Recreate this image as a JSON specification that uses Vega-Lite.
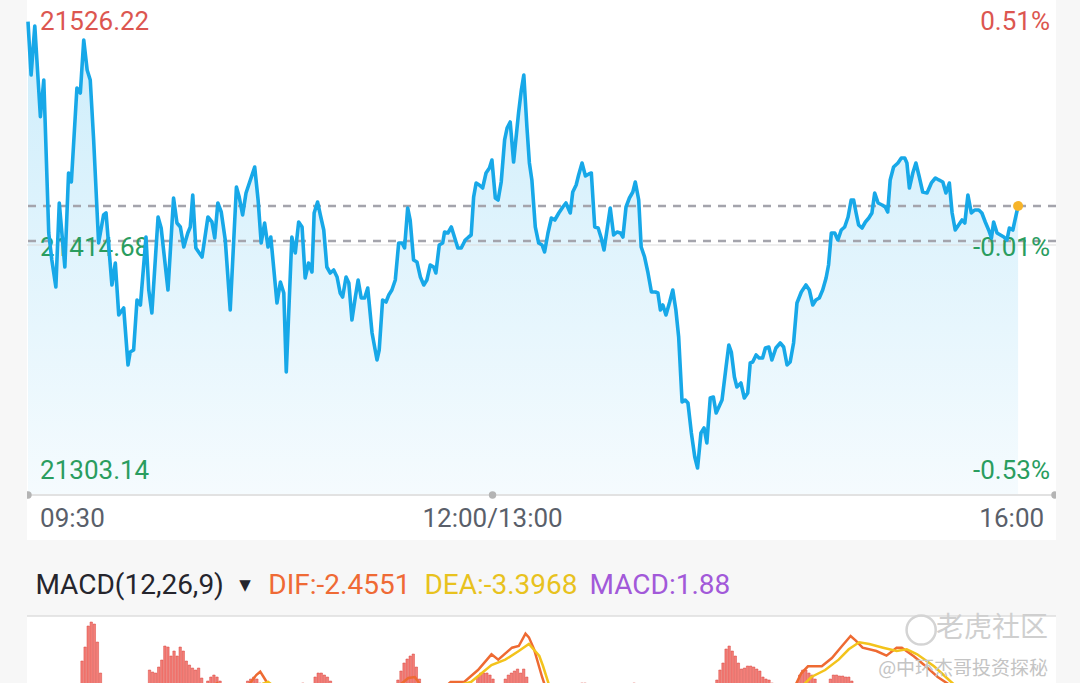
{
  "$schema": "https://vega.github.io/schema/vega-lite/v6.json",
  "background": "#f7f7f7",
  "padding": {"left": 25, "right": 26, "top": 0, "bottom": 0},
  "spacing": 0,
  "resolve": {"scale": {"color": "independent"}},
  "config": {
    "view": {"stroke": null},
    "axis": {"disable": true},
    "legend": {"disable": true},
    "text": {"font": "Roboto"}
  },
  "datasets": {
    "price": [
      {"t":0,"p":21522.91},{"t":1.0,"p":21496.61},{"t":2.2,"p":21520.79},{"t":4.0,"p":21476.03},{"t":5.1,"p":21494.14},{"t":6.7,"p":21418.63},{"t":7.7,"p":21405.30},{"t":9.0,"p":21391.98},{"t":10.1,"p":21433.43},{"t":11.9,"p":21401.85},{"t":13.1,"p":21448.24},{"t":14.0,"p":21443.80},{"t":15.8,"p":21490.19},{"t":16.9,"p":21487.72},{"t":18.0,"p":21513.88},{"t":19.1,"p":21499.08},{"t":20.1,"p":21494.14},{"t":21.2,"p":21464.53},{"t":22.8,"p":21413.69},{"t":24.4,"p":21427.51},{"t":25.2,"p":21428.50},{"t":27.1,"p":21392.96},{"t":28.2,"p":21403.82},{"t":29.3,"p":21378.16},{"t":30.9,"p":21381.61},{"t":32.3,"p":21353.48},{"t":33.0,"p":21359.90},{"t":34.1,"p":21360.88},{"t":35.2,"p":21385.56},{"t":36.3,"p":21383.09},{"t":38.1,"p":21416.65},{"t":39.0,"p":21390.50},{"t":40.0,"p":21379.15},{"t":42.0,"p":21426.52},{"t":43.0,"p":21421.10},{"t":45.2,"p":21390.50},{"t":47.0,"p":21435.90},{"t":48.1,"p":21423.56},{"t":49.2,"p":21421.59},{"t":50.3,"p":21411.72},{"t":51.6,"p":21418.63},{"t":52.4,"p":21421.59},{"t":53.2,"p":21437.38},{"t":54.2,"p":21411.23},{"t":56.2,"p":21406.78},{"t":58.1,"p":21426.52},{"t":59.4,"p":21424.06},{"t":60.3,"p":21416.16},{"t":61.3,"p":21433.43},{"t":62.4,"p":21428.99},{"t":63.7,"p":21415.17},{"t":65.3,"p":21380.63},{"t":67.3,"p":21441.33},{"t":68.2,"p":21436.40},{"t":69.3,"p":21427.51},{"t":70.4,"p":21438.37},{"t":73.2,"p":21451.20},{"t":74.3,"p":21434.92},{"t":75.3,"p":21413.69},{"t":76.4,"p":21423.56},{"t":77.5,"p":21411.72},{"t":78.4,"p":21416.65},{"t":80.4,"p":21384.08},{"t":81.5,"p":21394.44},{"t":82.6,"p":21389.02},{"t":83.4,"p":21350.03},{"t":85.2,"p":21416.65},{"t":86.3,"p":21408.76},{"t":87.4,"p":21424.06},{"t":88.5,"p":21421.59},{"t":89.5,"p":21396.42},{"t":90.6,"p":21403.82},{"t":91.7,"p":21399.38},{"t":92.4,"p":21428.50},{"t":93.5,"p":21433.93},{"t":94.4,"p":21427.51},{"t":95.5,"p":21420.11},{"t":96.5,"p":21401.85},{"t":97.6,"p":21398.89},{"t":98.7,"p":21400.37},{"t":99.8,"p":21396.91},{"t":100.8,"p":21389.02},{"t":101.6,"p":21387.04},{"t":102.7,"p":21396.91},{"t":103.6,"p":21393.95},{"t":104.6,"p":21375.69},{"t":105.7,"p":21387.04},{"t":106.6,"p":21395.43},{"t":107.6,"p":21386.55},{"t":108.7,"p":21386.55},{"t":109.7,"p":21391.48},{"t":111.1,"p":21369.27},{"t":112.7,"p":21355.95},{"t":113.4,"p":21360.88},{"t":114.5,"p":21385.56},{"t":115.6,"p":21384.57},{"t":116.5,"p":21388.03},{"t":117.5,"p":21390.50},{"t":118.6,"p":21395.43},{"t":119.7,"p":21413.69},{"t":120.8,"p":21413.69},{"t":121.6,"p":21411.23},{"t":122.6,"p":21430.97},{"t":123.4,"p":21425.04},{"t":124.5,"p":21405.30},{"t":125.6,"p":21404.32},{"t":126.7,"p":21396.91},{"t":127.8,"p":21392.96},{"t":128.8,"p":21395.43},{"t":129.9,"p":21402.84},{"t":131.0,"p":21401.85},{"t":131.7,"p":21398.89},{"t":132.8,"p":21412.71},{"t":133.9,"p":21413.69},{"t":134.5,"p":21419.12},{"t":135.6,"p":21418.63},{"t":136.7,"p":21421.59},{"t":137.8,"p":21416.16},{"t":138.8,"p":21411.23},{"t":139.9,"p":21411.23},{"t":141.2,"p":21415.17},{"t":142.3,"p":21416.65},{"t":143.1,"p":21417.64},{"t":143.9,"p":21436.40},{"t":144.7,"p":21443.31},{"t":145.7,"p":21442.32},{"t":146.8,"p":21440.84},{"t":147.9,"p":21448.24},{"t":149.0,"p":21450.71},{"t":149.8,"p":21454.66},{"t":150.9,"p":21435.90},{"t":151.8,"p":21434.92},{"t":152.8,"p":21443.80},{"t":153.9,"p":21464.53},{"t":154.7,"p":21470.45},{"t":155.7,"p":21473.41},{"t":156.8,"p":21453.67},{"t":158.4,"p":21477.85},{"t":159.3,"p":21489.20},{"t":160.1,"p":21496.61},{"t":161.1,"p":21470.94},{"t":161.9,"p":21453.18},{"t":162.7,"p":21444.79},{"t":163.8,"p":21421.59},{"t":164.9,"p":21413.69},{"t":166.0,"p":21412.71},{"t":166.8,"p":21409.25},{"t":167.9,"p":21418.63},{"t":169.0,"p":21426.03},{"t":170.1,"p":21425.04},{"t":171.4,"p":21428.50},{"t":172.7,"p":21431.46},{"t":173.7,"p":21433.43},{"t":175.1,"p":21428.50},{"t":175.9,"p":21438.86},{"t":177.0,"p":21442.32},{"t":177.8,"p":21447.25},{"t":178.9,"p":21453.18},{"t":180.0,"p":21446.76},{"t":181.1,"p":21447.75},{"t":181.9,"p":21448.24},{"t":183.0,"p":21421.59},{"t":184.1,"p":21421.10},{"t":185.1,"p":21416.16},{"t":186.0,"p":21410.24},{"t":187.1,"p":21421.59},{"t":188.0,"p":21430.97},{"t":189.1,"p":21417.64},{"t":190.2,"p":21419.12},{"t":191.3,"p":21418.63},{"t":192.1,"p":21416.65},{"t":193.1,"p":21431.46},{"t":194.2,"p":21435.90},{"t":195.3,"p":21438.86},{"t":196.1,"p":21443.80},{"t":197.2,"p":21434.92},{"t":198.0,"p":21411.72},{"t":199.1,"p":21406.78},{"t":200.2,"p":21398.89},{"t":201.3,"p":21389.51},{"t":202.6,"p":21389.51},{"t":203.4,"p":21389.02},{"t":204.2,"p":21380.63},{"t":205.0,"p":21383.09},{"t":206.0,"p":21378.16},{"t":207.2,"p":21384.57},{"t":208.2,"p":21390.50},{"t":209.2,"p":21380.63},{"t":210.1,"p":21367.30},{"t":211.2,"p":21335.22},{"t":212.2,"p":21336.21},{"t":213.1,"p":21334.73},{"t":214.2,"p":21319.92},{"t":215.3,"p":21308.08},{"t":216.2,"p":21302.65},{"t":217.3,"p":21319.92},{"t":218.3,"p":21322.39},{"t":219.2,"p":21314.98},{"t":220.3,"p":21337.19},{"t":221.3,"p":21337.69},{"t":222.2,"p":21329.79},{"t":224.1,"p":21336.21},{"t":225.4,"p":21352.49},{"t":226.3,"p":21363.35},{"t":227.1,"p":21359.90},{"t":228.1,"p":21347.56},{"t":228.9,"p":21342.62},{"t":230.2,"p":21344.60},{"t":231.3,"p":21337.19},{"t":232.4,"p":21339.66},{"t":233.2,"p":21354.47},{"t":234.0,"p":21354.96},{"t":235.1,"p":21358.42},{"t":236.1,"p":21356.94},{"t":237.2,"p":21356.94},{"t":238.1,"p":21361.87},{"t":239.2,"p":21362.36},{"t":240.2,"p":21355.95},{"t":241.5,"p":21361.87},{"t":242.9,"p":21364.34},{"t":244.0,"p":21362.36},{"t":245.1,"p":21353.48},{"t":246.1,"p":21354.96},{"t":247.2,"p":21364.34},{"t":248.3,"p":21384.08},{"t":249.7,"p":21389.51},{"t":251.2,"p":21392.96},{"t":252.3,"p":21390.50},{"t":253.4,"p":21383.09},{"t":254.4,"p":21385.56},{"t":255.5,"p":21386.55},{"t":256.6,"p":21390.50},{"t":257.7,"p":21396.42},{"t":258.5,"p":21402.84},{"t":259.4,"p":21418.63},{"t":260.5,"p":21418.63},{"t":261.5,"p":21415.17},{"t":262.6,"p":21420.11},{"t":263.7,"p":21421.59},{"t":264.8,"p":21426.52},{"t":265.8,"p":21434.92},{"t":266.6,"p":21434.92},{"t":267.4,"p":21428.50},{"t":268.2,"p":21422.58},{"t":269.3,"p":21421.10},{"t":270.4,"p":21424.06},{"t":271.5,"p":21426.03},{"t":272.5,"p":21428.50},{"t":273.4,"p":21438.37},{"t":274.5,"p":21433.43},{"t":275.8,"p":21432.45},{"t":276.8,"p":21431.46},{"t":277.6,"p":21428.99},{"t":278.4,"p":21444.79},{"t":279.5,"p":21451.20},{"t":280.9,"p":21453.18},{"t":282.0,"p":21455.64},{"t":283.1,"p":21455.64},{"t":283.8,"p":21453.18},{"t":284.6,"p":21440.84},{"t":285.7,"p":21448.24},{"t":286.7,"p":21453.18},{"t":287.8,"p":21446.27},{"t":288.9,"p":21438.86},{"t":290.3,"p":21438.37},{"t":291.7,"p":21443.31},{"t":293.0,"p":21445.77},{"t":294.1,"p":21444.79},{"t":295.4,"p":21443.80},{"t":296.4,"p":21438.37},{"t":297.5,"p":21443.31},{"t":298.4,"p":21428.50},{"t":299.4,"p":21420.11},{"t":300.5,"p":21422.58},{"t":301.6,"p":21425.04},{"t":302.5,"p":21423.56},{"t":303.5,"p":21437.38},{"t":304.6,"p":21428.50},{"t":305.7,"p":21429.98},{"t":307.0,"p":21429.98},{"t":308.0,"p":21428.50},{"t":309.1,"p":21424.06},{"t":310.2,"p":21420.11},{"t":311.1,"p":21416.16},{"t":311.8,"p":21424.06},{"t":312.9,"p":21418.63},{"t":314.0,"p":21417.64},{"t":315.1,"p":21416.65},{"t":316.1,"p":21415.17},{"t":316.9,"p":21421.10},{"t":318.0,"p":21420.11},{"t":319.7,"p":21431.95}
    ],
    "priceLabels": [
      {"text":"21526.22","t":3.9,"p":21522.76,"tone":"up","side":"left"},
      {"text":"21414.68","t":3.9,"p":21411.23,"tone":"down","side":"left"},
      {"text":"21303.14","t":3.9,"p":21301.17,"tone":"down","side":"left"},
      {"text":"0.51%","t":330.0,"p":21522.76,"tone":"up","side":"right"},
      {"text":"-0.01%","t":330.0,"p":21411.23,"tone":"down","side":"right"},
      {"text":"-0.53%","t":330.0,"p":21301.17,"tone":"down","side":"right"}
    ],
    "timeLabels": [
      {"text":"09:30","t":3.9,"side":"left"},
      {"text":"12:00/13:00","t":150,"side":"center"},
      {"text":"16:00","t":328.1,"side":"right"}
    ],
    "macdHist": [
      {"t":15,"v":0.45},{"t":16,"v":4.2},{"t":17,"v":6.3},{"t":18,"v":9.45},{"t":19,"v":10.05},{"t":20,"v":9.75},{"t":21,"v":7.05},{"t":22,"v":2.4},
      {"t":38,"v":2.85},{"t":39,"v":2.55},{"t":40,"v":2.4},{"t":41,"v":3.3},{"t":42,"v":4.35},{"t":43,"v":6.45},{"t":44,"v":6.3},{"t":45,"v":4.95},{"t":46,"v":5.7},{"t":47,"v":4.95},{"t":48,"v":6.3},{"t":49,"v":5.7},{"t":50,"v":4.2},{"t":51,"v":3.6},{"t":52,"v":3.15},{"t":53,"v":2.85},{"t":54,"v":3.15},{"t":55,"v":1.65},{"t":56,"v":0.45},
      {"t":57,"v":1.2},{"t":58,"v":1.8},{"t":59,"v":2.1},{"t":60,"v":1.8},{"t":61,"v":1.2},
      {"t":69,"v":0.6},{"t":70,"v":1.2},{"t":71,"v":1.5},{"t":72,"v":1.8},{"t":73,"v":1.5},{"t":74,"v":0.9},
      {"t":88,"v":0.9},
      {"t":92,"v":1.8},{"t":93,"v":2.4},{"t":94,"v":2.4},{"t":95,"v":2.1},{"t":96,"v":1.8},{"t":97,"v":1.2},
      {"t":118,"v":0.3},{"t":119,"v":1.35},{"t":120,"v":2.7},{"t":121,"v":3.9},{"t":122,"v":4.5},{"t":123,"v":4.95},{"t":124,"v":5.25},{"t":125,"v":3.3},{"t":126,"v":1.5},{"t":127,"v":0.6},
      {"t":145,"v":1.8},{"t":146,"v":2.4},{"t":147,"v":2.4},{"t":148,"v":2.4},{"t":149,"v":2.1},{"t":150,"v":1.5},
      {"t":154,"v":1.5},{"t":155,"v":2.1},{"t":156,"v":2.4},{"t":157,"v":2.7},{"t":158,"v":3.0},{"t":159,"v":2.4},{"t":160,"v":3.0},{"t":161,"v":1.8},
      {"t":178,"v":0.6},{"t":179,"v":0.9},{"t":180,"v":0.9},{"t":181,"v":0.75},{"t":182,"v":0.45},
      {"t":195,"v":0.6},{"t":196,"v":0.9},{"t":197,"v":0.75},
      {"t":222,"v":0.3},{"t":223,"v":1.35},{"t":224,"v":2.85},{"t":225,"v":3.9},{"t":226,"v":6.0},{"t":227,"v":6.45},{"t":228,"v":5.7},{"t":229,"v":4.95},{"t":230,"v":3.9},{"t":231,"v":3.0},{"t":232,"v":3.15},{"t":233,"v":3.45},{"t":234,"v":3.45},{"t":235,"v":3.3},{"t":236,"v":3.0},{"t":237,"v":2.7},{"t":238,"v":1.8},{"t":239,"v":1.5},{"t":240,"v":1.35},{"t":241,"v":0.9},{"t":242,"v":0.3},
      {"t":250,"v":2.1},{"t":251,"v":2.85},{"t":252,"v":2.85},{"t":253,"v":2.4},{"t":254,"v":2.1},{"t":255,"v":1.5},
      {"t":256,"v":0.3},{"t":257,"v":0.45},{"t":258,"v":0.3},
      {"t":260,"v":1.5},{"t":261,"v":2.1},{"t":262,"v":2.1},{"t":263,"v":1.95},{"t":264,"v":1.95},{"t":265,"v":1.8},{"t":266,"v":1.8},{"t":267,"v":1.2}
    ],
    "macdLines": [
      {"s":"DIF","t":0,"v":-2.55},{"s":"DIF","t":53.0,"v":-2.55},{"s":"DIF","t":57.2,"v":0.15},{"s":"DIF","t":60.1,"v":0.9},{"s":"DIF","t":63.3,"v":-1.05},{"s":"DIF","t":66.5,"v":-1.05},{"s":"DIF","t":68.3,"v":-0.45},{"s":"DIF","t":70.6,"v":0.8},{"s":"DIF","t":72.8,"v":2.1},{"s":"DIF","t":74.1,"v":2.6},{"s":"DIF","t":75.2,"v":1.8},{"s":"DIF","t":77.2,"v":0.3},{"s":"DIF","t":79.4,"v":-0.75},{"s":"DIF","t":88.5,"v":-1.8},{"s":"DIF","t":114.3,"v":-1.8},{"s":"DIF","t":119.2,"v":0.45},{"s":"DIF","t":122.4,"v":1.65},{"s":"DIF","t":124.5,"v":1.8},{"s":"DIF","t":126.6,"v":0.45},{"s":"DIF","t":128.4,"v":-0.45},{"s":"DIF","t":131.7,"v":-0.75},{"s":"DIF","t":136.2,"v":1.05},{"s":"DIF","t":140.6,"v":1.05},{"s":"DIF","t":145.1,"v":2.85},{"s":"DIF","t":149.5,"v":5.2},{"s":"DIF","t":151.7,"v":4.4},{"s":"DIF","t":156.2,"v":6.2},{"s":"DIF","t":158.4,"v":6.45},{"s":"DIF","t":160.6,"v":8.3},{"s":"DIF","t":161.7,"v":7.75},{"s":"DIF","t":163.4,"v":5.95},{"s":"DIF","t":166.0,"v":1.8},{"s":"DIF","t":168.6,"v":-1.8},{"s":"DIF","t":185.3,"v":-2.55},{"s":"DIF","t":243.5,"v":-2.55},{"s":"DIF","t":247.2,"v":-0.75},{"s":"DIF","t":250.5,"v":2.35},{"s":"DIF","t":252.7,"v":3.4},{"s":"DIF","t":257.2,"v":3.4},{"s":"DIF","t":260.5,"v":4.65},{"s":"DIF","t":263.8,"v":6.45},{"s":"DIF","t":266.6,"v":7.95},{"s":"DIF","t":268.3,"v":7.25},{"s":"DIF","t":270.5,"v":6.2},{"s":"DIF","t":275.0,"v":5.7},{"s":"DIF","t":278.3,"v":5.0},{"s":"DIF","t":281.6,"v":6.2},{"s":"DIF","t":283.3,"v":6.2},{"s":"DIF","t":287.2,"v":4.9},{"s":"DIF","t":290.5,"v":3.65},{"s":"DIF","t":295.0,"v":1.8},{"s":"DIF","t":298.3,"v":0.8},{"s":"DIF","t":301.6,"v":-0.75},{"s":"DIF","t":306.4,"v":-2.55},{"s":"DIF","t":319.7,"v":-2.55},
      {"s":"DEA","t":0,"v":-3.3},{"s":"DEA","t":69.1,"v":-2.55},{"s":"DEA","t":72.8,"v":0},{"s":"DEA","t":75.0,"v":0.8},{"s":"DEA","t":76.7,"v":1.05},{"s":"DEA","t":78.3,"v":0.5},{"s":"DEA","t":80.6,"v":-0.45},{"s":"DEA","t":85.2,"v":-1.8},{"s":"DEA","t":120.8,"v":-1.8},{"s":"DEA","t":126.2,"v":-0.45},{"s":"DEA","t":131.7,"v":-0.25},{"s":"DEA","t":136.2,"v":0.25},{"s":"DEA","t":142.8,"v":1.05},{"s":"DEA","t":149.5,"v":3.6},{"s":"DEA","t":154.0,"v":4.4},{"s":"DEA","t":158.4,"v":5.7},{"s":"DEA","t":161.7,"v":6.75},{"s":"DEA","t":165.1,"v":4.95},{"s":"DEA","t":166.3,"v":3.45},{"s":"DEA","t":169.2,"v":-0.75},{"s":"DEA","t":172.4,"v":-2.55},{"s":"DEA","t":243.5,"v":-3.3},{"s":"DEA","t":248.2,"v":-0.75},{"s":"DEA","t":253.8,"v":1.8},{"s":"DEA","t":258.3,"v":2.85},{"s":"DEA","t":262.7,"v":4.4},{"s":"DEA","t":266.0,"v":5.95},{"s":"DEA","t":269.4,"v":7.0},{"s":"DEA","t":272.7,"v":6.75},{"s":"DEA","t":277.2,"v":6.2},{"s":"DEA","t":281.6,"v":5.7},{"s":"DEA","t":284.9,"v":5.95},{"s":"DEA","t":288.3,"v":5.2},{"s":"DEA","t":293.8,"v":3.4},{"s":"DEA","t":299.4,"v":1.05},{"s":"DEA","t":303.8,"v":-0.75},{"s":"DEA","t":309.7,"v":-2.55},{"s":"DEA","t":319.7,"v":-2.85}
    ],
    "header": [
      {"text":"MACD(12,26,9)","t":2.4,"role":"name"},
      {"text":"DIF:-2.4551","t":77.6,"role":"dif"},
      {"text":"DEA:-3.3968","t":128.0,"role":"dea"},
      {"text":"MACD:1.88","t":181.3,"role":"macd"}
    ]
  },
  "vconcat": [
    {
      "width": 1029,
      "height": 540,
      "view": {"fill": "#ffffff", "stroke": null},
      "layer": [
        {
          "data": {"name": "price"},
          "mark": {"type": "area", "color": {"gradient": "linear", "x1": 0, "y1": 0, "x2": 0, "y2": 1, "stops": [{"offset": 0, "color": "#cdedfb"}, {"offset": 1, "color": "#f5fbfe"}]}},
          "encoding": {
            "x": {"field": "t", "type": "quantitative", "scale": {"domain": [-0.32, 331.94], "nice": false, "zero": false}},
            "y": {"field": "p", "type": "quantitative", "scale": {"domain": [21267.11, 21533.62], "nice": false, "zero": false}},
            "y2": {"datum": 21289.32}
          }
        },
        {
          "data": {"values": [{"p": 21412.71}]},
          "mark": {"type": "rule", "color": "#dcdcdc", "strokeWidth": 1},
          "encoding": {"y": {"field": "p", "type": "quantitative"}}
        },
        {
          "data": {"values": [{"ref": "prev close", "p": 21414.68}, {"ref": "last", "p": 21431.95}]},
          "mark": {"type": "rule", "color": "#a4a4ac", "strokeWidth": 2.5, "strokeDash": [8, 7]},
          "encoding": {"y": {"field": "p", "type": "quantitative"}}
        },
        {
          "data": {"values": [{"t0": 0, "t1": 331.6, "p": 21289.32}]},
          "mark": {"type": "rule", "color": "#e2e2e2", "strokeWidth": 2},
          "encoding": {
            "x": {"field": "t0", "type": "quantitative"},
            "x2": {"field": "t1"},
            "y": {"field": "p", "type": "quantitative"}
          }
        },
        {
          "data": {"values": [{"t": 0, "p": 21289.32}, {"t": 150, "p": 21289.32}, {"t": 331.6, "p": 21289.32}]},
          "mark": {"type": "circle", "color": "#b4b4b4", "opacity": 1, "size": 55, "clip": true},
          "encoding": {
            "x": {"field": "t", "type": "quantitative"},
            "y": {"field": "p", "type": "quantitative"}
          }
        },
        {
          "data": {"name": "priceLabels"},
          "transform": [{"filter": "datum.side === 'left'"}],
          "mark": {"type": "text", "align": "left", "baseline": "middle", "fontSize": 26},
          "encoding": {
            "x": {"field": "t", "type": "quantitative"},
            "y": {"field": "p", "type": "quantitative"},
            "text": {"field": "text"},
            "color": {"field": "tone", "type": "nominal", "scale": {"domain": ["up", "down"], "range": ["#dc5650", "#2a9d5f"]}}
          }
        },
        {
          "data": {"name": "priceLabels"},
          "transform": [{"filter": "datum.side === 'right'"}],
          "mark": {"type": "text", "align": "right", "baseline": "middle", "fontSize": 26},
          "encoding": {
            "x": {"field": "t", "type": "quantitative"},
            "y": {"field": "p", "type": "quantitative"},
            "text": {"field": "text"},
            "color": {"field": "tone", "type": "nominal", "scale": {"domain": ["up", "down"], "range": ["#dc5650", "#2a9d5f"]}}
          }
        },
        {
          "data": {"name": "timeLabels"},
          "transform": [{"filter": "datum.side === 'left'"}],
          "mark": {"type": "text", "align": "left", "baseline": "middle", "fontSize": 26, "color": "#5a5f6a"},
          "encoding": {
            "x": {"field": "t", "type": "quantitative"},
            "y": {"datum": 21277.48},
            "text": {"field": "text"}
          }
        },
        {
          "data": {"name": "timeLabels"},
          "transform": [{"filter": "datum.side === 'center'"}],
          "mark": {"type": "text", "align": "center", "baseline": "middle", "fontSize": 26, "color": "#5a5f6a"},
          "encoding": {
            "x": {"field": "t", "type": "quantitative"},
            "y": {"datum": 21277.48},
            "text": {"field": "text"}
          }
        },
        {
          "data": {"name": "timeLabels"},
          "transform": [{"filter": "datum.side === 'right'"}],
          "mark": {"type": "text", "align": "right", "baseline": "middle", "fontSize": 26, "color": "#5a5f6a"},
          "encoding": {
            "x": {"field": "t", "type": "quantitative"},
            "y": {"datum": 21277.48},
            "text": {"field": "text"}
          }
        },
        {
          "data": {"name": "price"},
          "mark": {"type": "line", "color": "#17a8e8", "strokeWidth": 3.6, "strokeJoin": "round"},
          "encoding": {
            "x": {"field": "t", "type": "quantitative"},
            "y": {"field": "p", "type": "quantitative"}
          }
        },
        {
          "data": {"values": [{"t": 319.7, "p": 21431.95}]},
          "mark": {"type": "circle", "color": "#f6b42a", "opacity": 1, "size": 100},
          "encoding": {
            "x": {"field": "t", "type": "quantitative"},
            "y": {"field": "p", "type": "quantitative"}
          }
        }
      ]
    },
    {
      "width": 1029,
      "height": 70,
      "layer": [
        {
          "data": {"name": "header"},
          "mark": {"type": "text", "align": "left", "baseline": "middle", "fontSize": 28},
          "encoding": {
            "x": {"field": "t", "type": "quantitative", "scale": {"domain": [-0.32, 331.94], "nice": false, "zero": false}},
            "y": {"datum": 46, "type": "quantitative", "scale": {"domain": [0, 70], "reverse": true, "nice": false, "zero": false}},
            "text": {"field": "text"},
            "color": {"field": "role", "type": "nominal", "scale": {"domain": ["name", "dif", "dea", "macd"], "range": ["#25252d", "#ef6a35", "#e8c21e", "#a259d9"]}}
          }
        },
        {
          "data": {"values": [{"text": "▼", "t": 70.1}]},
          "mark": {"type": "text", "align": "center", "baseline": "middle", "fontSize": 15, "color": "#25252d", "font": "DejaVu Sans"},
          "encoding": {
            "x": {"field": "t", "type": "quantitative"},
            "y": {"datum": 45, "type": "quantitative"},
            "text": {"field": "text"}
          }
        }
      ]
    },
    {
      "width": 1029,
      "height": 73,
      "view": {"fill": "#ffffff", "stroke": null},
      "layer": [
        {
          "data": {"name": "macdHist"},
          "mark": {"type": "bar", "width": 2.4, "fill": "#f47e78", "stroke": "#d8463f", "strokeWidth": 0.5},
          "encoding": {
            "x": {"field": "t", "type": "quantitative", "scale": {"domain": [-0.32, 331.94], "nice": false, "zero": false}},
            "y": {"field": "v", "type": "quantitative", "scale": {"domain": [0, 10.95], "nice": false, "zero": false}},
            "y2": {"datum": 0}
          }
        },
        {
          "data": {"name": "macdLines"},
          "mark": {"type": "line", "strokeWidth": 2.5, "clip": true},
          "encoding": {
            "x": {"field": "t", "type": "quantitative"},
            "y": {"field": "v", "type": "quantitative"},
            "color": {"field": "s", "type": "nominal", "scale": {"domain": ["DEA", "DIF"], "range": ["#f3c31b", "#ee6a32"]}},
            "order": {"field": "t", "type": "quantitative"}
          }
        },
        {
          "data": {"values": [{"v": 10.95}]},
          "mark": {"type": "rule", "color": "#dedede", "strokeWidth": 1.5},
          "encoding": {"y": {"field": "v", "type": "quantitative"}}
        },
        {
          "data": {"values": [{"t": 289.6, "v": 8.85}]},
          "mark": {"type": "point", "shape": "circle", "filled": false, "size": 850, "stroke": "#d4d4d4", "strokeWidth": 2.5, "opacity": 1},
          "encoding": {
            "x": {"field": "t", "type": "quantitative"},
            "y": {"field": "v", "type": "quantitative"}
          }
        },
        {
          "data": {"values": [{"text": "老虎社区", "t": 331.0, "v": 9.0}]},
          "mark": {"type": "text", "align": "right", "baseline": "middle", "fontSize": 28, "font": "Noto Sans CJK SC", "color": "#cfcfcf"},
          "encoding": {
            "x": {"field": "t", "type": "quantitative"},
            "y": {"field": "v", "type": "quantitative"},
            "text": {"field": "text"}
          }
        },
        {
          "data": {"values": [{"text": "@中环杰哥投资探秘", "t": 331.0, "v": 3.0}]},
          "mark": {"type": "text", "align": "right", "baseline": "middle", "fontSize": 19, "font": "Noto Sans CJK SC", "color": "#c4c4c4"},
          "encoding": {
            "x": {"field": "t", "type": "quantitative"},
            "y": {"field": "v", "type": "quantitative"},
            "text": {"field": "text"}
          }
        }
      ]
    }
  ]
}
